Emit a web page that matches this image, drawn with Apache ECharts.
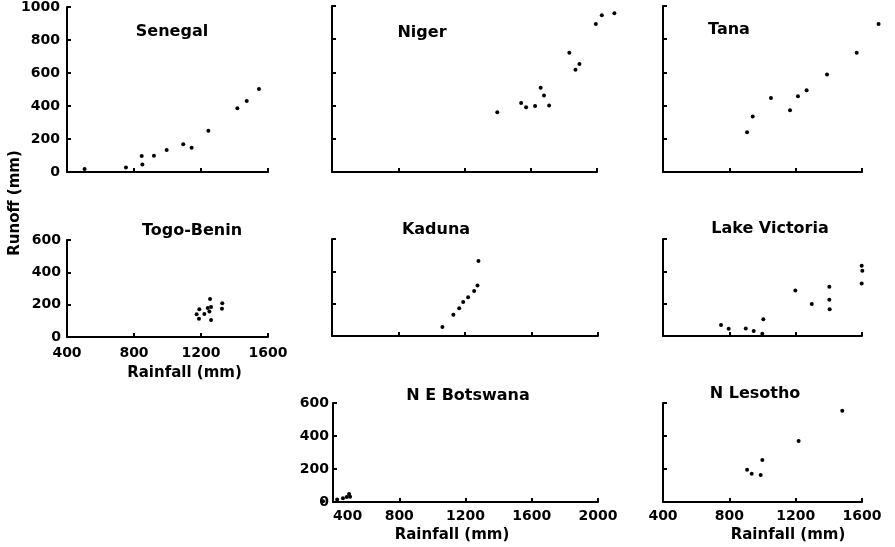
<!DOCTYPE html>
<html>
<head>
<meta charset="utf-8">
<script src="https://cdn.jsdelivr.net/npm/echarts@6/dist/echarts.min.js"></script>
<style>
  html, body { margin: 0; padding: 0; background: #fff; }
  #chart { width: 895px; height: 547px; }
</style>
</head>
<body>
<div id="chart"></div>
<script>
// [rainfall, runoff] in mm
const senegal = [[505, 18], [752, 28], [846, 97], [850, 46], [919, 99], [995, 133], [1094, 168],
  [1144, 147], [1244, 250], [1417, 386], [1473, 430], [1546, 503]];
const niger = [[1398, 360], [1542, 416], [1572, 390], [1626, 398], [1660, 507], [1680, 461],
  [1711, 400], [1833, 719], [1870, 616], [1894, 650], [1993, 891], [2029, 945], [2105, 957]];
const tana = [[907, 240], [941, 335], [1051, 446], [1166, 372], [1214, 457], [1266, 493],
  [1389, 588], [1568, 719], [1700, 891]];
const togoBenin = [[1174, 140], [1188, 113], [1190, 171], [1220, 142], [1240, 180], [1250, 157],
  [1254, 235], [1260, 185], [1260, 105], [1325, 175], [1327, 208]];
const kaduna = [[1064, 56], [1130, 132], [1165, 171], [1189, 210], [1219, 239], [1255, 279],
  [1275, 312], [1281, 464]];
const lakeVictoria = [[750, 68], [796, 45], [899, 47], [947, 31], [999, 14], [1005, 103],
  [1198, 281], [1297, 198], [1403, 305], [1403, 225], [1405, 165], [1598, 435], [1602, 404], [1598, 324]];
const neBotswana = [[340, 4], [425, 15], [460, 22], [483, 30], [497, 48], [503, 32]];
const nLesotho = [[907, 196], [935, 171], [989, 164], [999, 255], [1218, 370], [1481, 553]];

// axis ranges
const rainShort = [400, 1600];
const rainLong = [400, 2000];
const runoffHigh = [0, 1000];
const runoffLow = [0, 600];

const ink = '#000';
const tickFont = { color: ink, fontFamily: 'DejaVu Sans', fontWeight: 'bold', fontSize: 14 };
const nameFont = { color: ink, fontFamily: 'DejaVu Sans', fontWeight: 'bold', fontSize: 15 };

// name, data, grid box, x range, y range, labels shown, title centre
const panels = [
  { name: 'Senegal', data: senegal, box: [67, 7, 201, 165], x: rainShort, y: runoffHigh, yLab: 7, title: [172, 33] },
  { name: 'Niger', data: niger, box: [332, 6, 265, 166], x: rainLong, y: runoffHigh, title: [422, 34] },
  { name: 'Tana', data: tana, box: [663, 6, 199, 166], x: rainShort, y: runoffHigh, title: [729, 31] },
  { name: 'Togo-Benin', data: togoBenin, box: [67, 240, 201, 97], x: rainShort, y: runoffLow, yLab: 6, xLab: 9,
    xName: { gap: 29, pad: [0, 0, 0, 34] }, title: [192, 232] },
  { name: 'Kaduna', data: kaduna, box: [332, 239, 266, 97], x: rainLong, y: runoffLow, title: [436, 231] },
  { name: 'Lake Victoria', data: lakeVictoria, box: [663, 239, 199, 97], x: rainShort, y: runoffLow, title: [770, 230] },
  { name: 'N E Botswana', data: neBotswana, box: [333, 403, 265, 99], x: rainLong, y: runoffLow, yLab: 4, xLab: 7,
    xName: { gap: 26, pad: [0, 27, 0, 0] }, title: [468, 397] },
  { name: 'N Lesotho', data: nLesotho, box: [663, 403, 199, 99], x: rainShort, y: runoffLow, xLab: 7,
    xName: { gap: 26, pad: [0, 0, 0, 51] }, title: [755, 395] }
];

const axisLine = { lineStyle: { color: ink, width: 2 } };
const axisTick = { inside: true, length: 4, lineStyle: { color: ink, width: 2 } };
const plain = v => String(v);

const option = {
  backgroundColor: '#fff',
  animation: false,
  title: panels.map(p => ({
    text: p.name,
    left: p.title[0],
    top: p.title[1] - 9,
    textAlign: 'center',
    padding: 0,
    textStyle: { color: ink, fontFamily: 'DejaVu Sans', fontWeight: 'bold', fontSize: 16 }
  })),
  grid: panels.map(p => ({
    left: p.box[0], top: p.box[1], width: p.box[2], height: p.box[3], containLabel: false
  })),
  xAxis: panels.map((p, i) => ({
    type: 'value',
    gridIndex: i,
    min: p.x[0],
    max: p.x[1],
    interval: 400,
    axisLine: axisLine,
    axisTick: axisTick,
    splitLine: { show: false },
    axisLabel: p.xLab
      ? Object.assign({ margin: p.xLab, formatter: plain, alignMinLabel: i === 6 ? 'left' : 'center' }, tickFont)
      : { show: false },
    name: p.xName ? 'Rainfall (mm)' : '',
    nameLocation: 'middle',
    nameGap: p.xName ? p.xName.gap : 0,
    nameTextStyle: p.xName ? Object.assign({ padding: p.xName.pad }, nameFont) : {}
  })),
  yAxis: panels.map((p, i) => ({
    type: 'value',
    gridIndex: i,
    min: p.y[0],
    max: p.y[1],
    interval: 200,
    axisLine: axisLine,
    axisTick: axisTick,
    splitLine: { show: false },
    axisLabel: p.yLab ? Object.assign({ margin: p.yLab, formatter: plain }, tickFont) : { show: false }
  })),
  graphic: [{
    type: 'text',
    x: 15,
    y: 203,
    rotation: Math.PI / 2,
    style: {
      text: 'Runoff (mm)',
      fill: ink,
      font: 'bold 15px "DejaVu Sans"',
      align: 'center',
      verticalAlign: 'middle'
    }
  }],
  series: panels.map((p, i) => ({
    name: p.name,
    type: 'scatter',
    xAxisIndex: i,
    yAxisIndex: i,
    data: p.data,
    clip: false,
    symbol: 'circle',
    symbolSize: 4,
    itemStyle: { color: ink, opacity: 1 },
    silent: true
  }))
};

const chart = echarts.init(document.getElementById('chart'));
chart.setOption(option);
</script>
</body>
</html>
